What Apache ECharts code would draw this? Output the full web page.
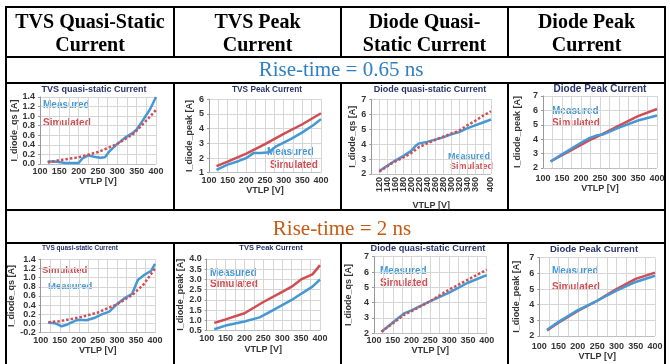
<!DOCTYPE html>
<html>
<head>
<meta charset="utf-8">
<script src="https://cdn.jsdelivr.net/npm/echarts@6/dist/echarts.min.js"></script>
<style>
  html, body { margin: 0; background: #fff; }
  #chart { width: 670px; height: 364px; }
</style>
</head>
<body>
<div id="chart"></div>
<script>
// ---- data: [VTLP (V), current (A)] ----
const colHeaders = [['TVS Quasi-Static', 'Current'], ['TVS Peak', 'Current'], ['Diode Quasi-', 'Static Current'], ['Diode Peak', 'Current']];
const riseTimes = ['Rise-time = 0.65 ns', 'Rise-time = 2 ns'];
const chartTitles = ['TVS quasi-static Current', 'TVS Peak Current', 'Diode quasi-static Current', 'Diode Peak Current'];
const yNames = ['I_diode_qs [A]', 'I_diode_peak [A]', 'I_diode_qs [A]', 'I_diode_peak [A]'];
const seriesNames = ['Measured', 'Simulated'];

// rise-time 0.65 ns
const tvsQsMeas065 = [[120,0.05],[135,0.05],[150,0.04],[165,0.02],[185,0.02],[200,0.02],[210,0.12],[225,0.18],[240,0.15],[255,0.13],[268,0.14],[280,0.27],[300,0.42],[320,0.55],[340,0.65],[350,0.72],[365,0.9],[385,1.15],[400,1.4]];
const tvsQsSim065 = [[120,0.03],[150,0.08],[200,0.14],[250,0.25],[300,0.42],[340,0.62],[360,0.78],[380,0.95],[400,1.13]];
const tvsPkMeas065 = [[120,1.2],[150,1.55],[180,1.8],[200,2.0],[220,2.35],[240,2.35],[260,2.4],[280,2.8],[300,3.05],[320,3.3],[350,3.75],[380,4.25],[400,4.65]];
const tvsPkSim065 = [[120,1.45],[150,1.75],[200,2.3],[250,2.95],[300,3.65],[350,4.3],[400,5.05]];
const diodeQsMeas065 = [[120,2.2],[140,2.55],[160,2.9],[180,3.2],[200,3.55],[210,3.85],[220,4.05],[240,4.15],[260,4.3],[280,4.45],[300,4.65],[320,4.8],[340,5.05],[360,5.25],[380,5.45],[400,5.65]];
const diodeQsSim065 = [[120,2.15],[150,2.7],[180,3.1],[200,3.4],[220,3.8],[240,4.05],[260,4.28],[280,4.5],[300,4.7],[320,4.9],[340,5.25],[360,5.55],[380,5.9],[400,6.2]];
const diodePkMeas065 = [[120,2.45],[150,2.95],[200,3.75],[220,4.05],[240,4.25],[260,4.35],[300,4.8],[350,5.3],[400,5.65]];
const diodePkSim065 = [[120,2.45],[150,2.9],[200,3.6],[220,3.9],[240,4.15],[260,4.4],[300,4.95],[350,5.6],[400,6.1]];

// rise-time 2 ns
const tvsQsMeas2 = [[120,0.02],[140,0.0],[155,-0.06],[170,-0.02],[190,0.06],[200,0.08],[220,0.07],[240,0.12],[260,0.2],[280,0.26],[300,0.42],[320,0.55],[340,0.65],[355,0.95],[370,1.05],[390,1.15],[400,1.3]];
const tvsQsSim2 = [[120,0.03],[150,0.05],[200,0.13],[250,0.24],[300,0.42],[340,0.62],[370,0.85],[400,1.2]];
const tvsPkMeas2 = [[120,0.57],[150,0.75],[200,0.95],[240,1.15],[260,1.35],[300,1.75],[325,2.0],[350,2.3],[380,2.65],[400,3.0]];
const tvsPkSim2 = [[120,0.88],[150,1.05],[200,1.35],[250,1.9],[300,2.4],[325,2.65],[350,3.0],[380,3.25],[400,3.7]];
const diodeQsMeas2 = [[120,2.1],[150,2.7],[180,3.3],[200,3.5],[250,4.1],[300,4.65],[350,5.3],[400,5.8]];
const diodeQsSim2 = [[120,2.1],[150,2.65],[180,3.2],[200,3.45],[250,4.1],[300,4.85],[350,5.5],[400,6.15]];
const diodePkMeas2 = [[120,2.4],[150,2.9],[200,3.65],[250,4.25],[300,4.9],[350,5.45],[400,5.85]];
const diodePkSim2 = [[120,2.35],[150,2.85],[200,3.6],[250,4.25],[300,5.0],[350,5.65],[400,6.05]];

const SANS = 'Liberation Sans';
const SERIF = 'Liberation Serif';
const BLUE = '#4498d6';
const RED = '#d24d52';
const TITLE = '#27346a';

// layout of the 8 small charts (pixel boxes of the plot areas)
const panels = [
  { col: 0, l: 40, r: 156, t: 97, b: 164, min: 0, max: 1.4, step: 0.2, meas: tvsQsMeas065, sim: tvsQsSim065, dot: true,
    ty: 90, tx: 94, ts: 9, yGap: 21, lblM: 3, xGap: 12, mx: 43, my: 105, sx: 43, sy: 123, fs: 10 },
  { col: 1, l: 209, r: 321, t: 99.3, b: 172.7, min: 1, max: 6, step: 1, meas: tvsPkMeas065, sim: tvsPkSim065, dot: false,
    ty: 90, tx: 267, ts: 8.3, yGap: 15, lblM: 3, xGap: 13, mx: 267, my: 152, sx: 270, sy: 165, fs: 10 },
  { col: 2, l: 371.3, r: 491, t: 99.3, b: 174, min: 2, max: 7, step: 1, meas: diodeQsMeas065, sim: diodeQsSim065, dot: true,
    ty: 90, tx: 430, ts: 9, yGap: 8, lblM: 3, xGap: 27, mx: 448, my: 157, sx: 450, sy: 167, fs: 9, rot: true },
  { col: 3, l: 543, r: 657, t: 96, b: 168, min: 2, max: 7, step: 1, meas: diodePkMeas065, sim: diodePkSim065, dot: false,
    ty: 89, tx: 600, ts: 10, yGap: 21, lblM: 6, xGap: 13, mx: 552, my: 111, sx: 552, sy: 123, fs: 10 },
  { col: 0, l: 40.7, r: 155, t: 259.3, b: 332.7, min: -0.2, max: 1.4, step: 0.2, meas: tvsQsMeas2, sim: tvsQsSim2, dot: true,
    ty: 248, tx: 80, ts: 6.5, yGap: 19, lblM: 3, xGap: 13, mx: 48, my: 286, sx: 42, sy: 270, fs: 9.5 },
  { col: 1, l: 206.7, r: 320, t: 259, b: 330.7, min: 0.5, max: 4, step: 0.5, meas: tvsPkMeas2, sim: tvsPkSim2, dot: false,
    ty: 248, tx: 271, ts: 7.5, yGap: 15, lblM: 3, xGap: 14, mx: 210, my: 273, sx: 210, sy: 284, fs: 10 },
  { col: 2, l: 374, r: 486.7, t: 256.7, b: 333.3, min: 2, max: 7, step: 1, meas: diodeQsMeas2, sim: diodeQsSim2, dot: true,
    ty: 248, tx: 428, ts: 9.2, yGap: 21, lblM: 3, xGap: 9, mx: 380, my: 271, sx: 380, sy: 283, fs: 10 },
  { col: 3, l: 539.3, r: 655, t: 257.7, b: 336, min: 2, max: 7, step: 1, meas: diodePkMeas2, sim: diodePkSim2, dot: false,
    ty: 249, tx: 594, ts: 9.5, yGap: 18, lblM: 6, xGap: 15, mx: 552, my: 271, sx: 552, sy: 287, fs: 10 }
];

const chart = echarts.init(document.getElementById('chart'), null, { renderer: 'canvas' });

const grid = [], xAxis = [], yAxis = [], series = [], graphic = [];

// table rules
const hLines = [7, 57, 83, 210, 243];
const vLines = [6, 174, 341, 508, 665];
hLines.forEach(y => graphic.push({ type: 'line', shape: { x1: 5, y1: y, x2: 666, y2: y }, style: { stroke: '#000', lineWidth: 2 } }));
vLines.forEach((x, i) => {
  const spans = (i === 0 || i === vLines.length - 1) ? [[6, 364]] : [[7, 57], [83, 210], [243, 364]];
  spans.forEach(s => graphic.push({ type: 'line', shape: { x1: x, y1: s[0], x2: x, y2: s[1] }, style: { stroke: '#000', lineWidth: 2 } }));
});

function txt(text, x, y, size, weight, family, fill, align) {
  return {
    type: 'text', x, y,
    style: {
      text, fill, fontSize: size, fontWeight: weight, fontFamily: family,
      align: align || 'center', textAlign: align || 'center',
      verticalAlign: 'middle', textVerticalAlign: 'middle'
    }
  };
}

colHeaders.forEach((lines, i) => {
  const cx = (vLines[i] + vLines[i + 1]) / 2;
  graphic.push(txt(lines[0], cx, 22.5, 20, 'bold', SERIF, '#000'));
  graphic.push(txt(lines[1], cx, 45.5, 20, 'bold', SERIF, '#000'));
});
graphic.push(txt(riseTimes[0], 341, 70, 21, 'normal', SERIF, '#2f7fc1'));
graphic.push(txt(riseTimes[1], 342, 229, 21, 'normal', SERIF, '#c55a11'));

panels.forEach((p, i) => {
  grid.push({ left: p.l, top: p.t, width: p.r - p.l, height: p.b - p.t, containLabel: false, outerBoundsMode: 'none', show: false });
  xAxis.push({
    type: 'value', gridIndex: i, min: 100, max: 400, interval: p.rot ? 20 : 50,
    name: 'VTLP [V]', nameLocation: 'middle', nameGap: p.xGap,
    nameTextStyle: { fontFamily: SANS, fontWeight: 'bold', fontSize: 9, color: '#333' },
    axisLine: { show: true, onZero: false, lineStyle: { color: '#bbb', width: 1, type: 'dotted' } },
    axisTick: { show: false },
    axisLabel: { fontFamily: SANS, fontWeight: 'bold', fontSize: 9, color: '#333', margin: p.lblM,
      rotate: p.rot ? 90 : 0, showMinLabel: !p.rot, showMaxLabel: true, hideOverlap: false },
    splitLine: { show: true, lineStyle: { color: '#d6d6d6', width: 1 } },
    minorTick: { show: false, splitNumber: p.rot ? 1 : 2 },
    minorSplitLine: { show: !p.rot, lineStyle: { color: '#d6d6d6', width: 1 } }
  });
  yAxis.push({
    type: 'value', gridIndex: i, min: p.min, max: p.max, interval: p.step,
    name: yNames[p.col], nameLocation: 'middle', nameGap: p.yGap,
    nameTextStyle: { fontFamily: SANS, fontWeight: 'bold', fontSize: 9, color: '#333' },
    axisLine: { show: true, lineStyle: { color: '#999', width: 1 } },
    axisTick: { show: true, length: 2, lineStyle: { color: '#999' } },
    axisLabel: { fontFamily: SANS, fontWeight: 'bold', fontSize: 9, color: '#333', margin: 5,
      formatter: v => p.step < 1 ? v.toFixed(1) : String(Math.round(v)) },
    splitLine: { show: true, lineStyle: { color: '#d6d6d6', width: 1 } }
  });
  series.push({
    name: seriesNames[0], type: 'line', xAxisIndex: i, yAxisIndex: i, data: p.meas,
    showSymbol: false, smooth: false, z: 3,
    lineStyle: { color: BLUE, width: 2.5 }
  });
  series.push({
    name: seriesNames[1], type: 'line', xAxisIndex: i, yAxisIndex: i, data: p.sim,
    showSymbol: false, smooth: false, z: p.dot ? 4 : 2,
    lineStyle: { color: RED, width: 2.5, type: p.dot ? [2.5, 2] : 'solid' }
  });
  graphic.push(txt(chartTitles[p.col], p.tx, p.ty, p.ts, 'bold', SANS, TITLE));
  graphic.push(txt(seriesNames[0], p.mx, p.my, p.fs, 'bold', SANS, BLUE, 'left'));
  graphic.push(txt(seriesNames[1], p.sx, p.sy, p.fs, 'bold', SANS, RED, 'left'));
});

chart.setOption({
  animation: false,
  backgroundColor: '#fff',
  grid, xAxis, yAxis, series,
  graphic: { elements: graphic }
});
</script>
</body>
</html>
